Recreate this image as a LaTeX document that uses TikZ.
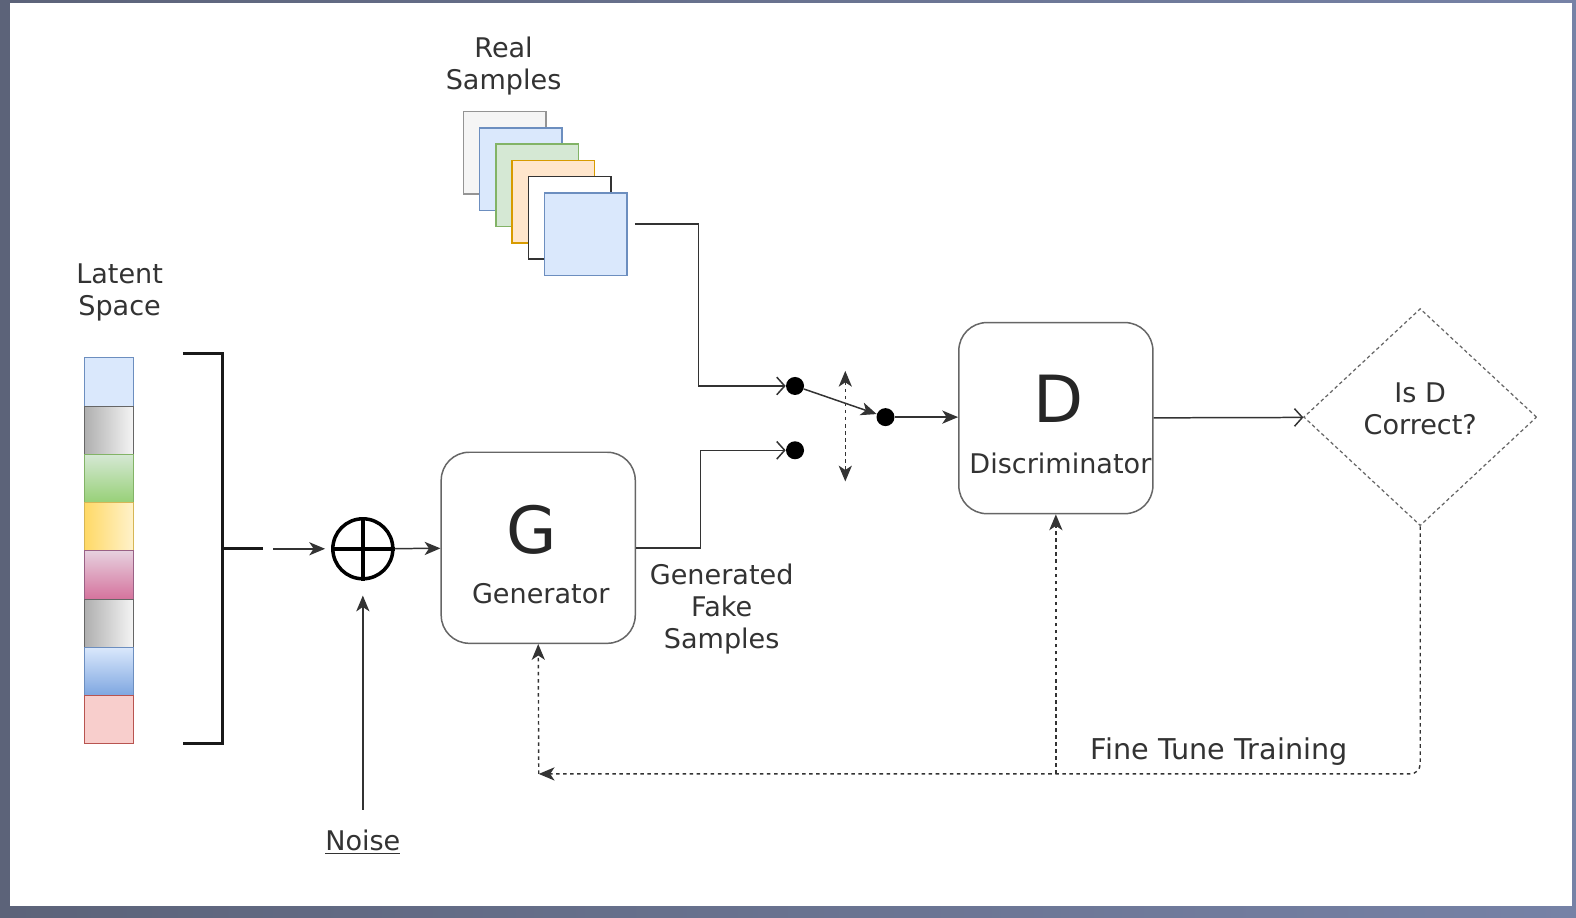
\documentclass[tikz,border=0pt]{standalone}
\usepackage{fontspec}
\setmainfont{DejaVu Sans}
\usepackage{tikz}
\usetikzlibrary{positioning,arrows.meta,shapes.geometric}
\definecolor{ink}{HTML}{333333}
\definecolor{lblue}{HTML}{DAE8FC}
\definecolor{sblue}{HTML}{6C8EBF}
\definecolor{dblue}{HTML}{7EA6E0}
\definecolor{lgreen}{HTML}{D5E8D4}
\definecolor{sgreen}{HTML}{82B366}
\definecolor{dgreen}{HTML}{97D077}
\definecolor{lorange}{HTML}{FFE6CC}
\definecolor{sorange}{HTML}{D79B00}
\definecolor{lyellow}{HTML}{FFF2CC}
\definecolor{dyellow}{HTML}{FFD966}
\definecolor{syellow}{HTML}{D6B656}
\definecolor{lpink}{HTML}{E6D0DE}
\definecolor{dpink}{HTML}{D5739D}
\definecolor{spink}{HTML}{996185}
\definecolor{lred}{HTML}{F8CECC}
\definecolor{sred}{HTML}{B85450}
\definecolor{lgrey}{HTML}{F5F5F5}
\definecolor{dgrey}{HTML}{AFAFAF}
\definecolor{sgrey}{HTML}{666666}
\definecolor{frameL}{HTML}{5C6379}
\definecolor{frameR}{HTML}{7682A6}

\begin{document}
\begin{tikzpicture}[x=0.0201cm, y=-0.0201cm, >=Stealth, every node/.style={font=\fontsize{15.4}{18.2}\selectfont, text=ink}]
\tikzset{
  mybox/.style={
    draw=sgrey,
    rounded corners=0.56cm,
    line width=0.85pt,
    minimum width=3.88cm,
    minimum height=3.82cm,
  },
  mycell/.style={draw, line width=0.5pt, minimum width=0.985cm, minimum height=0.965cm, inner sep=0pt},
  mysample/.style={draw, line width=0.85pt, minimum size=1.65cm, inner sep=0pt},
  mydot/.style={circle, fill=black, inner sep=0pt, minimum size=0.36cm},
  conn/.style={draw=ink, line width=0.85pt},
  dotconn/.style={draw=ink, line width=0.8pt, dash pattern=on 2pt off 2pt},
  arr/.style={-{Stealth[length=9pt,width=7.5pt,inset=2.5pt]}},
  dblarr/.style={{Stealth[length=9pt,width=7.5pt,inset=2.5pt]}-{Stealth[length=9pt,width=7.5pt,inset=2.5pt]}},
  openarr/.style={-{Straight Barb[length=4.5pt,width=10pt]}},
  big/.style={font=\fontsize{37}{40}\selectfont, text=black!85},
}

\useasboundingbox (0,0) rectangle (1568,913);
\shade[left color=frameL, right color=frameR] (0,0) rectangle (1568,913);
\fill[white] (10,3) rectangle (1564,901);

\node[align=center] (RS) at (501,66) {Real\\Samples};
\node[mysample, draw=sgrey!70, fill=lgrey] (S1) at (502,152) {};
\node[mysample, draw=sblue, fill=lblue] (S2) at (518.2,168.2) {};
\node[mysample, draw=sgreen, fill=lgreen] (S3) at (534.4,184.4) {};
\node[mysample, draw=sorange, fill=lorange] (S4) at (550.6,200.6) {};
\node[mysample, draw=ink, fill=white] (S5) at (566.8,216.8) {};
\node[mysample, draw=sblue, fill=lblue] (S6) at (583,233) {};

\node[align=center] (LS) at (119,291) {Latent\\Space};
\node[mycell, draw=sblue, fill=lblue] (L1) at (108.5,380) {};
\node[mycell, draw=sgrey, left color=dgrey, right color=lgrey] (L2) at (108.5,428) {};
\node[mycell, draw=sgreen, top color=lgreen, bottom color=dgreen] (L3) at (108.5,476) {};
\node[mycell, draw=syellow, left color=dyellow, right color=lyellow] (L4) at (108.5,524) {};
\node[mycell, draw=spink, top color=lpink, bottom color=dpink] (L5) at (108.5,572) {};
\node[mycell, draw=sgrey, left color=dgrey, right color=lgrey] (L6) at (108.5,620) {};
\node[mycell, draw=sblue, top color=lblue, bottom color=dblue] (L7) at (108.5,668) {};
\node[mycell, draw=sred, fill=lred] (L8) at (108.5,716) {};

\draw[line width=1.8pt, black!90] (182,352) -| (221,740) -- (182,740);
\draw[line width=1.8pt, black!90] (221,546) -- (262,546);
\coordinate (Lo) at (272,546);

\node[circle, draw=black, line width=2pt, minimum size=1.2cm, inner sep=0pt] (X) at (361,546) {};
\draw[line width=2pt, black] (X.north) -- (X.south) (X.west) -- (X.east);
\node[anchor=base] (N) at (361,846) {\underline{Noise}};

\node[mybox] (G) at (535.5,545) {};
\node[big] (Gl) at (529,527) {G};
\node (Gt) at (538,591) {Generator};
\node[align=center] (GF) at (718,606) {Generated\\Fake\\Samples};

\node[mydot] (K1) at (791,384) {};
\node[mydot] (K2) at (791,448) {};
\node[mydot] (K3) at (881,415) {};
\coordinate (T1) at (841,369);
\coordinate (T2) at (841,479);

\node[mybox] (D) at (1050.5,416) {};
\node[big] (Dl) at (1053,397) {D};
\node (Dt) at (1055,461) {Discriminator};

\node[diamond, draw=sgrey, line width=0.7pt, dash pattern=on 2pt off 1.6pt, minimum width=4.66cm, minimum height=4.34cm, inner sep=0pt] (Q) at (1413,415) {};
\node[align=center] (Qt) at (1413,407) {Is D\\Correct?};

\coordinate (F) at (536,770);
\node[font=\fontsize{16.3}{19}\selectfont] (FT) at (1213,748) {Fine Tune Training};

\draw[conn, arr, shorten >=0.12cm] (Lo) -- (X);
\draw[conn, arr, shorten <=0.28cm, shorten >=0.3cm] (N) -- (X);
\draw[conn, arr] (X) -- (G);
\draw[conn, openarr] ([xshift=0.14cm, yshift=0.2cm]S6.east) -- ++(63,0) |- (K1);
\draw[conn, openarr] (G.east) -- ++(64,0) |- (K2);
\draw[conn, arr] (K1) -- (K3);
\draw[dotconn, dblarr] (T1) -- (T2);
\draw[conn, arr] (K3) -- (K3 -| D.west);
\draw[conn, openarr] (D) -- (Q);
\draw[dotconn, arr, rounded corners=0.2cm] (Q.south) |- (F);
\draw[dotconn, arr] (F) -- (G.south);
\draw[dotconn, arr] (F -| D.south) -- (D.south);

\end{tikzpicture}
\end{document}
